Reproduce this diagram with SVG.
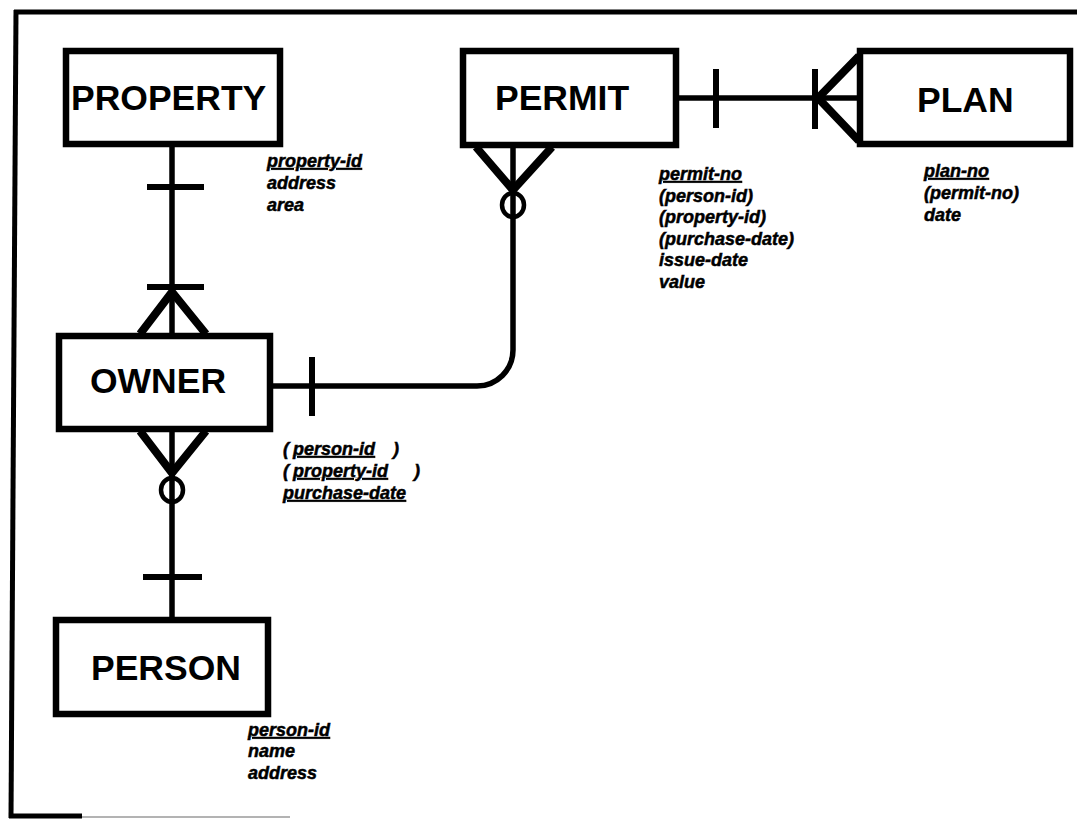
<svg xmlns="http://www.w3.org/2000/svg" width="1077" height="819" viewBox="0 0 1077 819">
  <style>
    .frame { stroke: #000; stroke-width: 5; fill: none; }
    .box { fill: #fff; stroke: #000; stroke-width: 6.5; }
    .title { font-family: "Liberation Sans", Arial, Helvetica, sans-serif; font-weight: bold; font-size: 35.5px; fill: #000; }
    .attr { font-family: "Liberation Sans", Arial, Helvetica, sans-serif; font-weight: bold; font-style: italic; font-size: 18px; fill: #000; stroke: #000; stroke-width: 0.5; }
    .u { text-decoration: underline; }
    .line { stroke: #000; stroke-width: 5.5; fill: none; }
    .bar { stroke: #000; stroke-width: 6; fill: none; }
    .foot { stroke: #000; stroke-width: 8; fill: none; }
    .ring { stroke: #000; stroke-width: 4.5; fill: #fff; }
  </style>

  <rect width="1077" height="819" fill="#fff"/>

  <!-- page frame -->
  <g id="frame">
    <line class="frame" x1="14" y1="12" x2="1077" y2="12"/>
    <line class="frame" x1="16" y1="10" x2="11" y2="818"/>
    <line class="frame" x1="9" y1="816" x2="82" y2="816"/>
    <line x1="82" y1="817" x2="290" y2="817" stroke="#9a9a9a" stroke-width="1.5"/>
  </g>

  <!-- relationships -->
  <g id="connectors">
    <!-- PROPERTY 1 : N OWNER -->
    <line class="line" x1="172" y1="147" x2="172" y2="333"/>
    <line class="bar" x1="147" y1="187" x2="204" y2="187"/>
    <line class="bar" x1="147" y1="287" x2="204" y2="287"/>
    <polyline class="foot" points="140,334 172,292 206,334"/>

    <!-- PERSON 1 : N OWNER (optional) -->
    <line class="line" x1="172" y1="432" x2="172" y2="617"/>
    <polyline class="foot" points="140,431 172,473 206,431"/>
    <ellipse class="ring" cx="172" cy="490" rx="11" ry="12"/>
    <line class="line" x1="172" y1="478" x2="172" y2="502"/>
    <line class="bar" x1="143" y1="577" x2="202" y2="577"/>

    <!-- OWNER 1 : N PERMIT (optional) -->
    <path class="line" d="M273,386 H477 A36,36 0 0 0 513,350 V148"/>
    <line class="bar" x1="312" y1="357" x2="312" y2="416"/>
    <polyline class="foot" points="476,147 513,190 552,147"/>
    <ellipse class="ring" cx="513" cy="205" rx="11" ry="12"/>
    <line class="line" x1="513" y1="193" x2="513" y2="217"/>

    <!-- PERMIT 1 : N PLAN -->
    <line class="line" x1="679" y1="98" x2="857" y2="98"/>
    <line class="bar" x1="716" y1="69" x2="716" y2="128"/>
    <line class="bar" x1="815" y1="69" x2="815" y2="129"/>
    <polyline class="foot" points="859,56 818,98 859,141"/>
  </g>

  <g id="node-property">
    <rect class="box" x="66" y="51" width="214" height="93"/>
    <text class="title" x="71" y="110">PROPERTY</text>
    <text class="attr" x="267" y="167"><tspan class="u">property-id</tspan></text>
    <text class="attr" x="267" y="189">address</text>
    <text class="attr" x="267" y="211">area</text>
  </g>

  <g id="node-permit">
    <rect class="box" x="463" y="51" width="213" height="94"/>
    <text class="title" x="495" y="110">PERMIT</text>
    <text class="attr" x="659" y="180"><tspan class="u">permit-no</tspan></text>
    <text class="attr" x="659" y="202">(person-id)</text>
    <text class="attr" x="659" y="223">(property-id)</text>
    <text class="attr" x="659" y="245">(purchase-date)</text>
    <text class="attr" x="659" y="266">issue-date</text>
    <text class="attr" x="659" y="288">value</text>
  </g>

  <g id="node-plan">
    <rect class="box" x="860" y="51" width="210" height="93"/>
    <text class="title" x="917" y="112">PLAN</text>
    <text class="attr" x="924" y="177"><tspan class="u">plan-no</tspan></text>
    <text class="attr" x="924" y="199">(permit-no)</text>
    <text class="attr" x="924" y="221">date</text>
  </g>

  <g id="node-owner">
    <rect class="box" x="59" y="336" width="211" height="93"/>
    <text class="title" x="90" y="393">OWNER</text>
    <text class="attr" y="455"><tspan x="283">(</tspan><tspan x="293" class="u">person-id</tspan><tspan x="393">)</tspan></text>
    <text class="attr" y="477"><tspan x="283">(</tspan><tspan x="293" class="u">property-id</tspan><tspan x="414">)</tspan></text>
    <text class="attr" x="283" y="499"><tspan class="u">purchase-date</tspan></text>
  </g>

  <g id="node-person">
    <rect class="box" x="56" y="620" width="212" height="94"/>
    <text class="title" x="91" y="680">PERSON</text>
    <text class="attr" x="248" y="736"><tspan class="u">person-id</tspan></text>
    <text class="attr" x="248" y="757">name</text>
    <text class="attr" x="248" y="779">address</text>
  </g>
</svg>
